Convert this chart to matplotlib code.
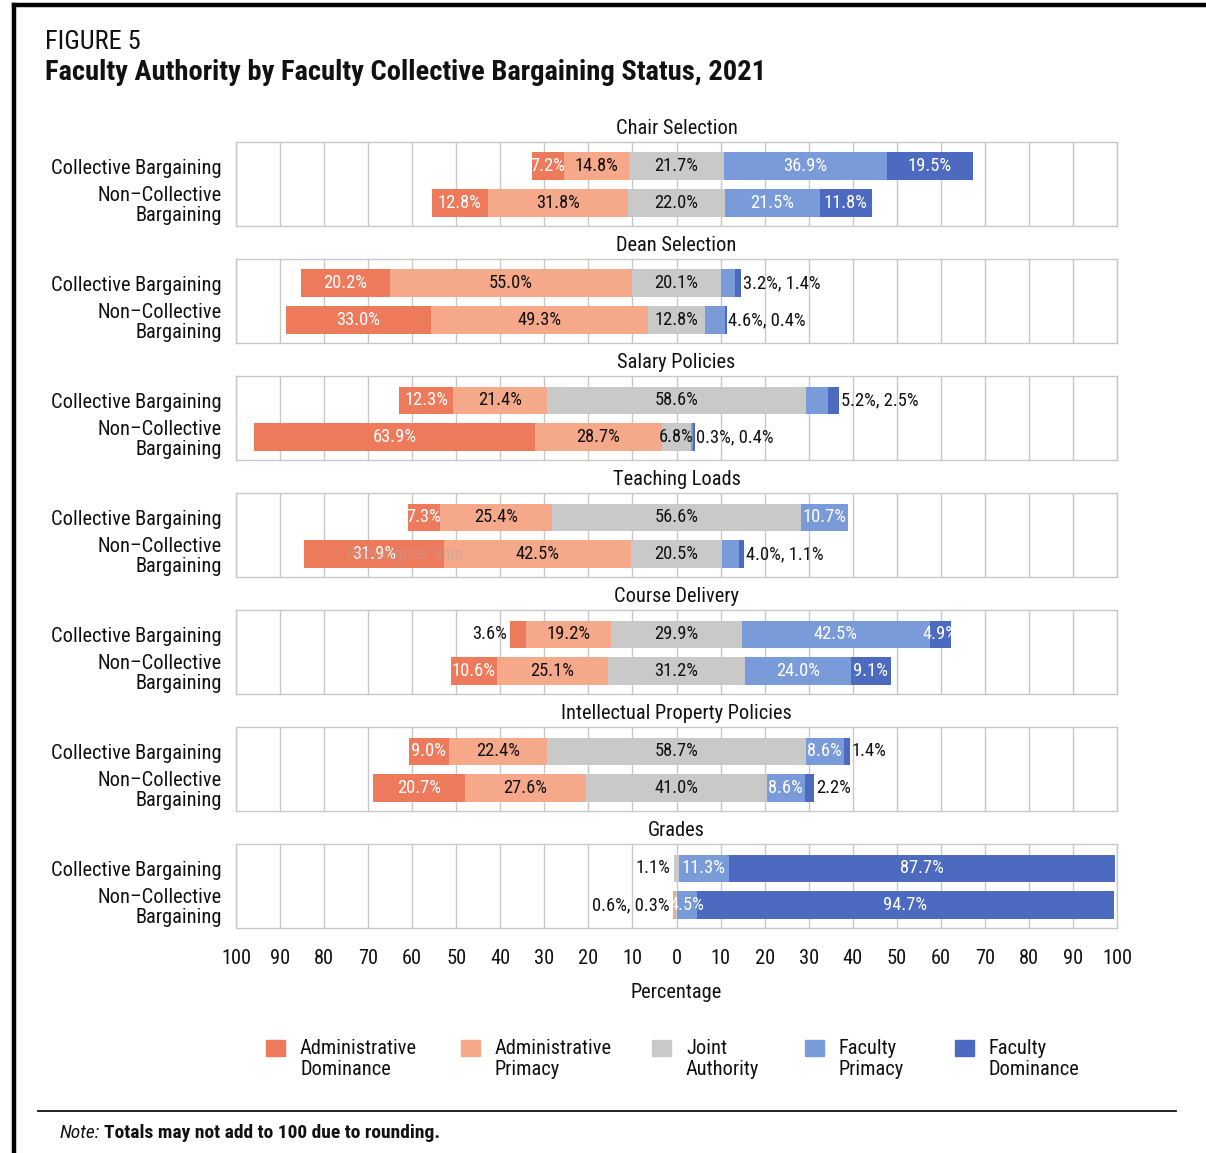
import matplotlib
matplotlib.use("Agg")
import matplotlib.pyplot as plt
from matplotlib.patches import Rectangle
from matplotlib.lines import Line2D
from matplotlib import font_manager

names = {f.name for f in font_manager.fontManager.ttflist}
FAM = 'DejaVu Sans'
for cand in ['Roboto Condensed', 'Archivo Narrow', 'PT Sans Narrow', 'Fira Sans Condensed',
             'IBM Plex Sans Condensed', 'Liberation Sans Narrow']:
    if cand in names:
        FAM = cand
        break
plt.rcParams['font.family'] = [FAM, 'DejaVu Sans']

# ---------------- data ----------------
categories = ["Chair Selection", "Dean Selection", "Salary Policies", "Teaching Loads",
              "Course Delivery", "Intellectual Property Policies", "Grades"]
groups = ["Collective Bargaining", "Non\u2013Collective\nBargaining"]
series_names = ["Administrative\nDominance", "Administrative\nPrimacy", "Joint\nAuthority",
                "Faculty\nPrimacy", "Faculty\nDominance"]

# Collective bargaining
adm_dom_cb = [7.2, 20.2, 12.3, 7.3, 3.6, 9.0, 0.0]
adm_pri_cb = [14.8, 55.0, 21.4, 25.4, 19.2, 22.4, 0.0]
joint_cb   = [21.7, 20.1, 58.6, 56.6, 29.9, 58.7, 1.1]
fac_pri_cb = [36.9, 3.2, 5.2, 10.7, 42.5, 8.6, 11.3]
fac_dom_cb = [19.5, 1.4, 2.5, 0.0, 4.9, 1.4, 87.7]

# Non-collective bargaining
adm_dom_ncb = [12.8, 33.0, 63.9, 31.9, 10.6, 20.7, 0.0]
adm_pri_ncb = [31.8, 49.3, 28.7, 42.5, 25.1, 27.6, 0.6]
joint_ncb   = [22.0, 12.8, 6.8, 20.5, 31.2, 41.0, 0.3]
fac_pri_ncb = [21.5, 4.6, 0.3, 4.0, 24.0, 8.6, 4.5]
fac_dom_ncb = [11.8, 0.4, 0.4, 1.1, 9.1, 2.2, 94.7]

# segments whose value labels sit outside the bar (0..4 = series index)
outside_cb  = [[], [3, 4], [3, 4], [], [0], [4], [2]]
outside_ncb = [[], [3, 4], [3, 4], [3, 4], [], [4], [1, 2]]

tick_values = list(range(-100, 101, 10))

# ---------------- style ----------------
colors = ['#EE7A5C', '#F6A98A', '#C9C9C9', '#7A9BDA', '#4C6BC0']
label_colors = ['white', '#111111', '#111111', 'white', 'white']
TXT = '#111111'
GRID = '#c8c8c8'

W, H = 1206, 1153
fig = plt.figure(figsize=(W / 100, H / 100), dpi=100)

def fx(px):
    return px / W

def fy(py):
    return 1 - py / H

ax_left, ax_right = 236, 1117
panel_top0, panel_step, panel_h = 142, 117.0, 84

cb = [adm_dom_cb, adm_pri_cb, joint_cb, fac_pri_cb, fac_dom_cb]
ncb = [adm_dom_ncb, adm_pri_ncb, joint_ncb, fac_pri_ncb, fac_dom_ncb]

LBL = 13.3
FS = 14.7
axes = []
for i, cat in enumerate(categories):
    top = panel_top0 + panel_step * i
    ax = fig.add_axes([fx(ax_left), fy(top + panel_h), fx(ax_right - ax_left), panel_h / H])
    axes.append(ax)
    for row, (data, outside) in enumerate([(cb, outside_cb), (ncb, outside_ncb)]):
        vals = [s[i] for s in data]
        start = -(vals[2] / 2 + vals[1] + vals[0])
        lefts = []
        pos = start
        for v in vals:
            lefts.append(pos)
            pos += v
        right_end = pos
        for k, v in enumerate(vals):
            if v <= 0:
                continue
            ax.barh(row, v, left=lefts[k], height=0.75, color=colors[k], zorder=3)
            if k not in outside[i]:
                ax.text(lefts[k] + v / 2, row, f"{v:.1f}%", ha='center', va='center',
                        color=label_colors[k], fontsize=LBL, zorder=4)
        outs = outside[i]
        if outs:
            txt = ", ".join(f"{vals[k]:.1f}%" for k in outs)
            if min(outs) >= 3:
                ax.text(right_end + 0.4, row, txt, ha='left', va='center', color=TXT,
                        fontsize=LBL, zorder=4)
            else:
                ax.text(start - 0.8, row, txt, ha='right', va='center', color=TXT,
                        fontsize=LBL, zorder=4)
    ax.set_xlim(-100, 100)
    ax.set_ylim(1.62, -0.66)
    ax.set_xticks(tick_values)
    ax.grid(axis='x', color=GRID, lw=1, zorder=0)
    ax.set_axisbelow(True)
    for sp in ax.spines.values():
        sp.set_color(GRID)
        sp.set_linewidth(1)
    ax.set_yticks([0, 1])
    ax.set_yticklabels(groups, fontsize=FS, color=TXT, linespacing=1.05)
    ax.tick_params(axis='y', length=0, pad=10)
    ax.tick_params(axis='x', length=0)
    if i < len(categories) - 1:
        ax.set_xticklabels([])
    else:
        ax.set_xticklabels([str(abs(t)) for t in tick_values], fontsize=FS, color=TXT)
        ax.tick_params(axis='x', pad=15)
        ax.set_xlabel("Percentage", fontsize=FS, color=TXT, labelpad=11)
    ax.annotate(cat, xy=(0.5, 1), xycoords='axes fraction', xytext=(0, 9.5),
                textcoords='offset points', ha='center', va='center', fontsize=FS, color=TXT)

# watermark-like snip artifact seen in the reference
axes[3].text(-78, 1, "\u2022  Rectangular Snip", ha='left', va='center', fontsize=12.5,
             color='#b8a0a0', alpha=0.55, zorder=5)

# ---------------- titles ----------------
fig.text(fx(45), fy(42), "FIGURE 5", fontsize=19, color='#111111', ha='left', va='center')
fig.text(fx(45), fy(72), "Faculty Authority by Faculty Collective Bargaining Status, 2021",
         fontsize=20.5, fontweight='bold', color='#111111', ha='left', va='center')

# ---------------- legend ----------------
leg_x = [266, 461, 652, 805, 955]
for k, x in enumerate(leg_x):
    fig.add_artist(Rectangle((fx(x), fy(1056)), 19 / W, 16 / H, transform=fig.transFigure,
                             color=colors[k]))
    fig.text(fx(x + 34), fy(1059), series_names[k], fontsize=FS, color=TXT,
             ha='left', va='center', linespacing=1.15)

# ---------------- footer ----------------
fig.add_artist(Line2D([fx(38), fx(1176)], [fy(1111), fy(1111)], color='#111111', lw=1.3,
                      transform=fig.transFigure))
t1 = fig.text(fx(60), fy(1133), "Note:", fontsize=14, style='italic', color='#111111',
              ha='left', va='center')
fig.canvas.draw()
bb = t1.get_window_extent()
fig.text(bb.x1 / W + 4 / W, fy(1133), "Totals may not add to 100 due to rounding.",
         fontsize=14, fontweight='bold', color='#111111', ha='left', va='center')

# ---------------- border ----------------
fig.add_artist(Line2D([fx(14), fx(1206)], [fy(5), fy(5)], color='black', lw=3.2,
                      transform=fig.transFigure))
fig.add_artist(Line2D([fx(14), fx(14)], [fy(5), fy(1153)], color='black', lw=3.2,
                      transform=fig.transFigure))

fig.savefig("out.png", dpi=100, facecolor='white')
